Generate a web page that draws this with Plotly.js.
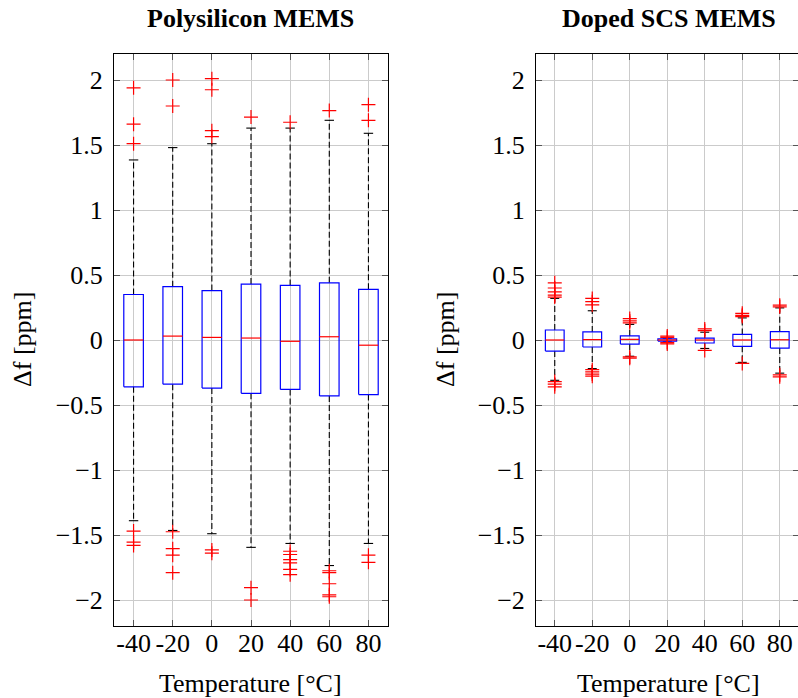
<!DOCTYPE html>
<html>
<head>
<meta charset="utf-8">
<script src="https://cdn.plot.ly/plotly-3.0.1.min.js"></script>
<style>
  html, body { margin: 0; padding: 0; overflow: hidden; background: #fff; }
  #chart { width: 800px; height: 698px; }
</style>
</head>
<body>
<div id="chart"></div>
<script>
// Temperature steps (°C)
const temps = [-40, -20, 0, 20, 40, 60, 80];
const tempLabels = ['-40', '-20', '0', '20', '40', '60', '80'];

// Polysilicon MEMS: box statistics of frequency deviation [ppm]
const polyQ1 = [-0.36, -0.34, -0.37, -0.41, -0.38, -0.43, -0.42];
const polyMedian = [0.0, 0.03, 0.02, 0.015, -0.01, 0.025, -0.04];
const polyQ3 = [0.35, 0.41, 0.38, 0.43, 0.42, 0.44, 0.39];
const polyLowerWhisker = [-1.39, -1.465, -1.49, -1.595, -1.565, -1.735, -1.565];
const polyUpperWhisker = [1.385, 1.48, 1.51, 1.63, 1.63, 1.69, 1.59];
const polyOutliers = [
  [1.94, 1.66, 1.51, -1.47, -1.555, -1.58],
  [2.0, 1.80, -1.475, -1.605, -1.655, -1.79],
  [2.01, 1.925, 1.61, 1.565, -1.615, -1.64],
  [1.715, -1.905, -2.0],
  [1.675, -1.625, -1.65, -1.69, -1.715, -1.765, -1.805],
  [1.765, -1.775, -1.79, -1.875, -1.96, -1.975],
  [1.81, 1.69, -1.655, -1.71]
];

// Doped SCS MEMS: box statistics of frequency deviation [ppm]
const scsQ1 = [-0.085, -0.054, -0.031, -0.008, -0.023, -0.049, -0.062];
const scsMedian = [0.0, 0.003, 0.005, 0.0, 0.0, 0.0, 0.002];
const scsQ3 = [0.077, 0.062, 0.031, 0.008, 0.015, 0.043, 0.064];
const scsLowerWhisker = [-0.31, -0.22, -0.125, -0.015, -0.065, -0.172, -0.255];
const scsUpperWhisker = [0.32, 0.225, 0.12, 0.015, 0.06, 0.17, 0.247];
const scsOutliers = [
  [0.44, 0.40, 0.37, 0.345, 0.33, -0.32, -0.34, -0.36],
  [0.32, 0.295, 0.27, -0.228, -0.245, -0.262, -0.278],
  [0.165, 0.147, 0.132, -0.13, -0.14],
  [0.03, 0.02, -0.02, -0.03],
  [0.085, 0.072, -0.08],
  [0.205, 0.19, 0.18, -0.18],
  [0.268, 0.255, -0.268, -0.283]
];

// drawing constants
const BOX_W = 10;      // box width in °C
const CAP_HALF = 2.4;  // whisker cap half-width in °C
const FONT = "'Liberation Serif', 'Times New Roman', Times, serif";
const FIG_W = 800, FIG_H = 698;
const M = { l: 0, r: 0, t: 54, b: 72 };

function groupTraces(q1, med, q3, lo, hi, outl, xa, ya) {
  const bx = [], by = [], wx = [], wy = [], cx = [], cy = [], mx = [], my = [];
  const h = BOX_W / 2;
  temps.forEach((t, i) => {
    // box outline q1..q3
    bx.push(t - h, t + h, t + h, t - h, t - h, null);
    by.push(q1[i], q1[i], q3[i], q3[i], q1[i], null);
    // whiskers from the box edges to the fences
    wx.push(t, t, null, t, t, null);
    wy.push(q3[i], hi[i], null, q1[i], lo[i], null);
    // whisker caps
    cx.push(t - CAP_HALF, t + CAP_HALF, null, t - CAP_HALF, t + CAP_HALF, null);
    cy.push(hi[i], hi[i], null, lo[i], lo[i], null);
    // median
    mx.push(t - h, t + h, null);
    my.push(med[i], med[i], null);
  });
  const common = { type: 'scatter', hoverinfo: 'skip', showlegend: false, xaxis: xa, yaxis: ya };
  const ox = [], oy = [];
  outl.forEach((vals, i) => vals.forEach(v => { ox.push(temps[i]); oy.push(v); }));
  return [
    Object.assign({}, common, { mode: 'lines', x: wx, y: wy,
      line: { color: '#000', width: 1.1, dash: '6px,3px' } }),
    Object.assign({}, common, { mode: 'lines', x: cx, y: cy,
      line: { color: '#000', width: 1.1 } }),
    Object.assign({}, common, { mode: 'lines', x: bx, y: by,
      line: { color: '#0000ff', width: 1.2 } }),
    Object.assign({}, common, { mode: 'lines', x: mx, y: my,
      line: { color: '#ff0000', width: 1.2 } }),
    Object.assign({}, common, { mode: 'markers', x: ox, y: oy,
      marker: { symbol: 'cross-thin', size: 10, line: { color: '#ff0000', width: 1.2 } } })
  ];
}

const data = [
  ...groupTraces(polyQ1, polyMedian, polyQ3, polyLowerWhisker, polyUpperWhisker, polyOutliers, 'x', 'y'),
  ...groupTraces(scsQ1, scsMedian, scsQ3, scsLowerWhisker, scsUpperWhisker, scsOutliers, 'x2', 'y2')
];

// pixel -> paper helpers
const plotH = FIG_H - M.t - M.b;
const px = v => v / FIG_W;
const py = v => (FIG_H - M.b - v) / plotH;

const xCommon = {
  range: [-50, 90], tickvals: temps, ticktext: tempLabels,
  ticks: 'inside', ticklen: 6, tickcolor: '#555', tickwidth: 1,
  showline: true, linecolor: '#000', linewidth: 1, mirror: 'ticks',
  showgrid: true, gridcolor: '#cbcbcb', gridwidth: 1, zeroline: false,
  tickfont: { family: FONT, size: 26, color: '#000' },
  ticklabelstandoff: -6, fixedrange: true
};
const yCommon = {
  range: [-2.2, 2.2], dtick: 0.5, tick0: 0,
  ticks: 'inside', ticklen: 6, tickcolor: '#555', tickwidth: 1,
  showline: true, linecolor: '#000', linewidth: 1, mirror: 'ticks',
  showgrid: true, gridcolor: '#cbcbcb', gridwidth: 1, zeroline: false,
  tickfont: { family: FONT, size: 26, color: '#000' },
  ticklabelstandoff: 5, fixedrange: true
};

const ann = (text, x, y, extra) => Object.assign({
  text: text, xref: 'paper', yref: 'paper', x: px(x), y: py(y),
  xanchor: 'center', yanchor: 'middle', showarrow: false,
  font: { family: FONT, size: 26, color: '#000' }
}, extra || {});

const layout = {
  width: FIG_W, height: FIG_H,
  margin: M,
  paper_bgcolor: '#fff', plot_bgcolor: '#fff',
  showlegend: false,
  xaxis: Object.assign({}, xCommon, { domain: [px(114), px(388)], anchor: 'y' }),
  yaxis: Object.assign({}, yCommon, { domain: [0, 1], anchor: 'x' }),
  xaxis2: Object.assign({}, xCommon, { domain: [px(536), px(798.5)], anchor: 'y2' }),
  yaxis2: Object.assign({}, yCommon, { domain: [0, 1], anchor: 'x2' }),
  annotations: [
    ann('<b>Polysilicon MEMS</b>', 251, 18),
    ann('<b>Doped SCS MEMS</b>', 669, 18),
    ann('Temperature [°C]', 251, 683),
    ann('Temperature [°C]', 668, 683),
    ann('Δf [ppm]', 22, 340, { textangle: -90 }),
    ann('Δf [ppm]', 445, 340, { textangle: -90 })
  ]
};

Plotly.newPlot('chart', data, layout, { displayModeBar: false, staticPlot: true });
</script>
</body>
</html>
